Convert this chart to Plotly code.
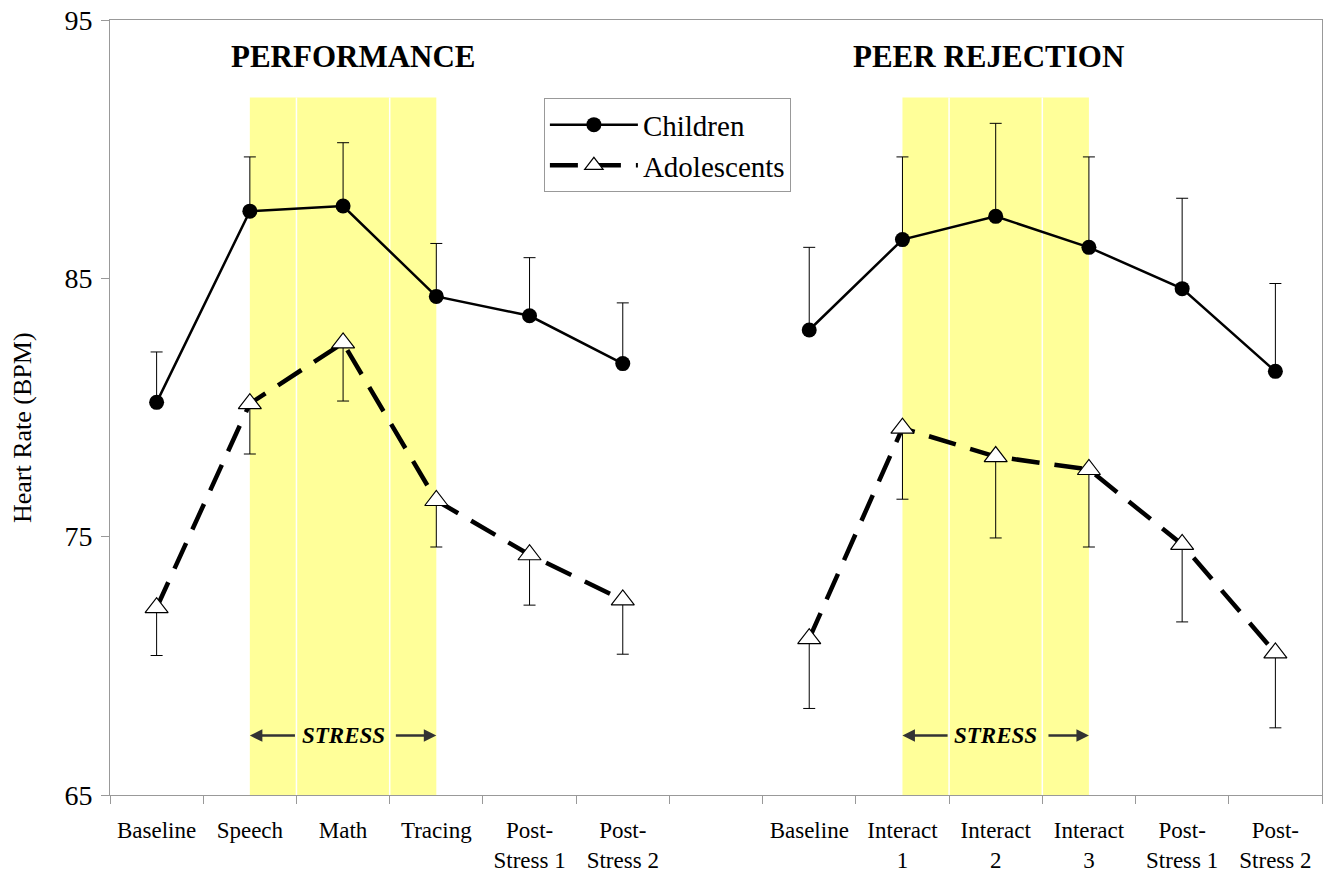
import plotly.graph_objects as go

# Categories (13 slots, slot 6 is the gap between the two tasks)
categories = ["Baseline", "Speech", "Math", "Tracing", "Post-<br>Stress 1", "Post-<br>Stress 2", "",
              "Baseline", "Interact<br>1", "Interact<br>2", "Interact<br>3", "Post-<br>Stress 1", "Post-<br>Stress 2"]

perf_idx = [0, 1, 2, 3, 4, 5]
peer_idx = [7, 8, 9, 10, 11, 12]

children_perf = [80.2, 87.6, 87.8, 84.3, 83.55, 81.7]
children_perf_err = [1.95, 2.1, 2.45, 2.05, 2.25, 2.35]
children_peer = [83.0, 86.5, 87.4, 86.2, 84.6, 81.4]
children_peer_err = [3.2, 3.2, 3.6, 3.5, 3.5, 3.4]

adol_perf = [72.25, 80.15, 82.5, 76.4, 74.3, 72.55]
adol_perf_err = [1.85, 1.95, 2.25, 1.8, 1.95, 2.1]
adol_peer = [71.05, 79.2, 78.1, 77.6, 74.7, 70.5]
adol_peer_err = [2.7, 2.75, 3.15, 3.0, 3.0, 2.9]

stress_perf = (1, 3)
stress_peer = (8, 10)
shade_top = 92

font = "Liberation Serif, Times New Roman, serif"

fig = go.Figure()

# yellow stress shading
for a, b in (stress_perf, stress_peer):
    fig.add_shape(type="rect", xref="x", yref="y", x0=a, x1=b, y0=65, y1=shade_top,
                  fillcolor="#FFFF99", line_width=0, layer="below")
    for k in range(a, b):
        fig.add_shape(type="line", xref="x", yref="y", x0=k + 0.5, x1=k + 0.5, y0=65, y1=shade_top,
                      line=dict(color="white", width=1.5), layer="below")
    mid = (a + b) / 2
    fig.add_annotation(x=mid, y=67.3, text="<b><i>STRESS</i></b>", showarrow=False,
                       font=dict(family=font, size=23, color="black"))
    fig.add_annotation(x=a, y=67.3, ax=mid - 0.5, ay=67.3, xref="x", yref="y", axref="x", ayref="y",
                       text="", showarrow=True, arrowhead=2, arrowsize=1, arrowwidth=2.5, arrowcolor="#333333")
    fig.add_annotation(x=b, y=67.3, ax=mid + 0.55, ay=67.3, xref="x", yref="y", axref="x", ayref="y",
                       text="", showarrow=True, arrowhead=2, arrowsize=1, arrowwidth=2.5, arrowcolor="#333333")

for i, (idx, ch, che, ad, ade) in enumerate([
        (perf_idx, children_perf, children_perf_err, adol_perf, adol_perf_err),
        (peer_idx, children_peer, children_peer_err, adol_peer, adol_peer_err)]):
    fig.add_trace(go.Scatter(
        x=idx, y=ch, mode="lines+markers", name="Children", showlegend=(i == 0),
        line=dict(color="black", width=2.5),
        marker=dict(symbol="circle", size=15, color="black"),
        error_y=dict(type="data", array=che, arrayminus=[0] * len(che), color="black",
                     thickness=1, width=6)))
    fig.add_trace(go.Scatter(
        x=idx, y=ad, mode="lines+markers", name="Adolescents", showlegend=(i == 0),
        line=dict(color="black", width=4.5, dash="28px,15px"),
        marker=dict(symbol="triangle-up", size=20, color="white", line=dict(color="black", width=1.2)),
        error_y=dict(type="data", array=[0] * len(ade), arrayminus=ade, color="black",
                     thickness=1, width=6)))

fig.add_annotation(x=2.11, y=93.57, text="<b>PERFORMANCE</b>", showarrow=False,
                   font=dict(family=font, size=31, color="black"))
fig.add_annotation(x=8.92, y=93.57, text="<b>PEER REJECTION</b>", showarrow=False,
                   font=dict(family=font, size=31, color="black"))
fig.add_annotation(xref="paper", yref="paper", x=-0.0726, y=0.4735, xanchor="center", yanchor="middle",
                   text="Heart Rate (BPM)", textangle=-90, showarrow=False,
                   font=dict(family=font, size=26, color="black"))

fig.update_layout(
    width=1332, height=875,
    margin=dict(l=110, r=10, t=20, b=80),
    plot_bgcolor="white", paper_bgcolor="white",
    font=dict(family=font, color="black"),
    showlegend=True,
    legend=dict(x=0.358, y=0.899, xanchor="left", yanchor="top",
                bordercolor="#999999", borderwidth=1, bgcolor="white",
                font=dict(family=font, size=29), itemwidth=88,
                tracegroupgap=0),
    xaxis=dict(range=[-0.5, 12.5], tickvals=list(range(len(categories))), ticktext=categories,
               ticks="", showgrid=False, zeroline=False, showline=True, linecolor="#999999",
               mirror=True, tickfont=dict(family=font, size=23), ticklabelstandoff=14,
               automargin=False,
               minor=dict(tick0=-0.5, dtick=1, ticks="outside", ticklen=8, tickcolor="#999999",
                          showgrid=False)),
    yaxis=dict(range=[65, 95], tickvals=[65, 75, 85, 95], ticks="outside", ticklen=8,
               tickcolor="#999999", showgrid=False, zeroline=False, showline=True,
               linecolor="#999999", mirror=True, tickfont=dict(family=font, size=28),
               ticklabeloverflow="allow", ticklabelstandoff=3, automargin=False),
)

fig.write_html("out.html", config={"displayModeBar": False},
               post_script="document.body.style.margin='0';")
